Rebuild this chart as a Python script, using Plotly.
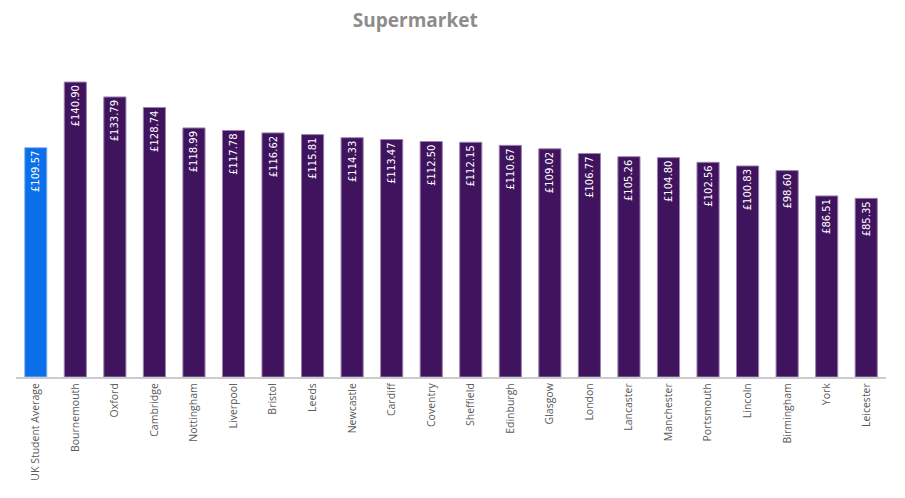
import plotly.graph_objects as go

categories = ["UK Student Average", "Bournemouth", "Oxford", "Cambridge", "Nottingham", "Liverpool",
              "Bristol", "Leeds", "Newcastle", "Cardiff", "Coventry", "Sheffield", "Edinburgh",
              "Glasgow", "London", "Lancaster", "Manchester", "Portsmouth", "Lincoln",
              "Birmingham", "York", "Leicester"]
values = [109.57, 140.90, 133.79, 128.74, 118.99, 117.78, 116.62, 115.81, 114.33, 113.47,
          112.50, 112.15, 110.67, 109.02, 106.77, 105.26, 104.80, 102.56, 100.83, 98.60,
          86.51, 85.35]
labels = ["£%.2f" % v for v in values]
colors = ["#0A6FE8"] + ["#40135E"] * (len(values) - 1)
line_colors = ["#8FB8F0"] + ["#9B84B0"] * (len(values) - 1)

fig = go.Figure(go.Bar(
    x=categories, y=values, text=labels,
    marker=dict(color=colors, line=dict(color=line_colors, width=1)),
    textposition="inside", insidetextanchor="end", textangle=-90,
    textfont=dict(color="white", size=10, family="DejaVu Sans"),
    cliponaxis=False,
))
fig.update_layout(
    width=897, height=490,
    margin=dict(l=8, r=19, t=32, b=121, autoexpand=False),
    paper_bgcolor="white", plot_bgcolor="white",
    bargap=0.44,
    title=dict(text="<b>Supermarket</b>", x=0.454, xanchor="center", y=1, yanchor="top",
               pad=dict(t=6, b=0),
               font=dict(family="Open Sans, sans-serif", size=19, color="#8C8C8C")),
    xaxis=dict(tickangle=-90, tickfont=dict(size=10.5, color="#595959", family="Open Sans"),
               showline=True, linecolor="#CCCCCC", linewidth=2, ticks="", automargin=False),
    yaxis=dict(range=[0, 161], visible=False, showgrid=False, automargin=False),
    showlegend=False,
    uniformtext=dict(minsize=10, mode="show"),
)
fig.write_html("out.html")
